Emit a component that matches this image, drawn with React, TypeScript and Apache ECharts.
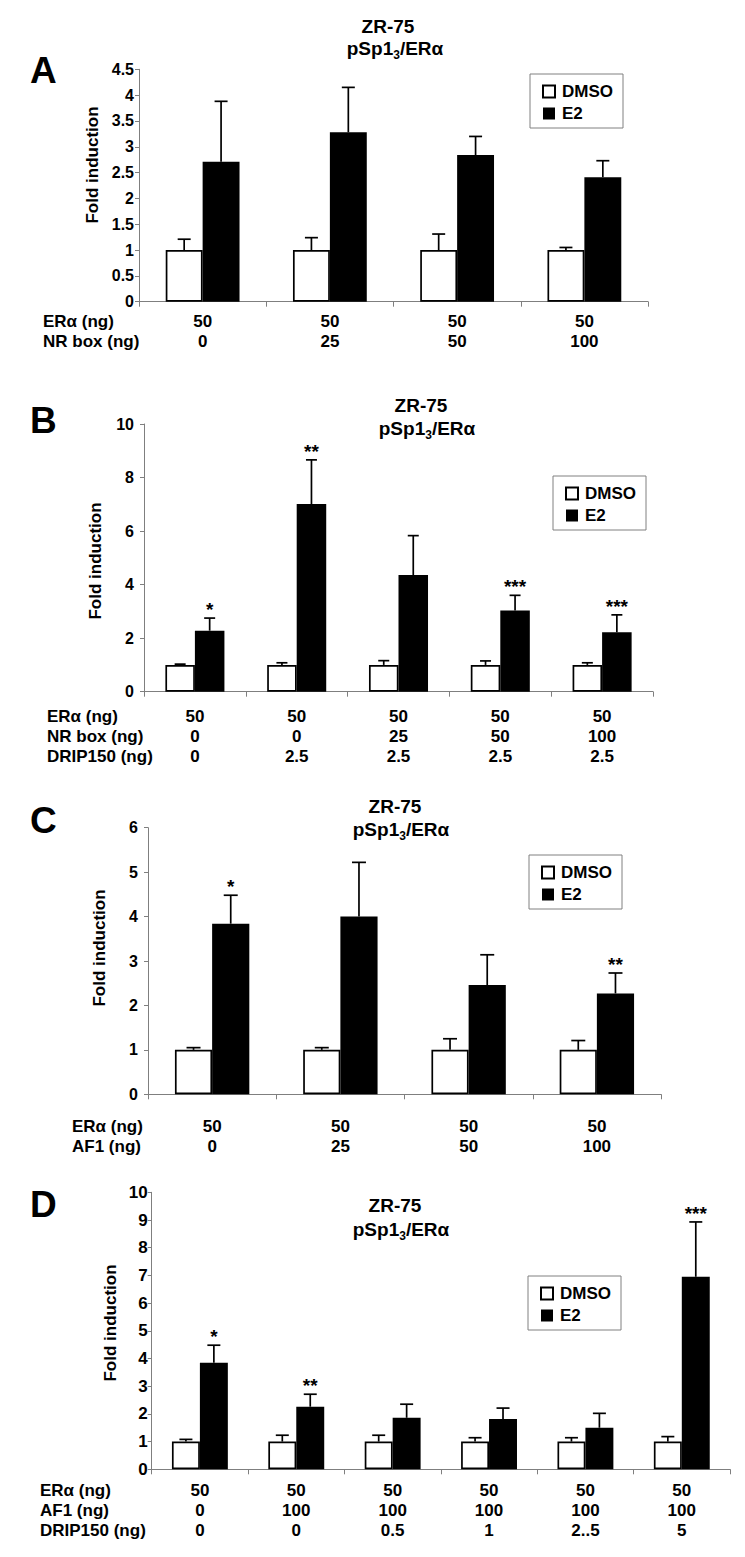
import { useEffect, useRef } from 'react';
import * as echarts from 'echarts';

// ---------- Panel A ----------
const aEra = ['50', '50', '50', '50'];
const aNrBox = ['0', '25', '50', '100'];
const aDmso = [1, 1, 1, 1];
const aDmsoErr = [1.21, 1.24, 1.31, 1.05];
const aE2 = [2.71, 3.28, 2.84, 2.41];
const aE2Err = [3.88, 4.15, 3.2, 2.73];
const aStars = ['', '', '', ''];

// ---------- Panel B ----------
const bEra = ['50', '50', '50', '50', '50'];
const bNrBox = ['0', '0', '25', '50', '100'];
const bDrip = ['0', '2.5', '2.5', '2.5', '2.5'];
const bDmso = [1, 1, 1, 1, 1];
const bDmsoErr = [1.03, 1.08, 1.16, 1.15, 1.08];
const bE2 = [2.28, 7.01, 4.36, 3.03, 2.22];
const bE2Err = [2.75, 8.66, 5.83, 3.6, 2.87];
const bStars = ['*', '**', '', '***', '***'];

// ---------- Panel C ----------
const cEra = ['50', '50', '50', '50'];
const cAf1 = ['0', '25', '50', '100'];
const cDmso = [1, 1, 1, 1];
const cDmsoErr = [1.05, 1.05, 1.25, 1.21];
const cE2 = [3.84, 4.0, 2.46, 2.27];
const cE2Err = [4.48, 5.22, 3.14, 2.73];
const cStars = ['*', '', '', '**'];

// ---------- Panel D ----------
const dEra = ['50', '50', '50', '50', '50', '50'];
const dAf1 = ['0', '100', '100', '100', '100', '100'];
const dDrip = ['0', '0', '0.5', '1', '2..5', '5'];
const dDmso = [1, 1, 1, 1, 1, 1];
const dDmsoErr = [1.08, 1.23, 1.23, 1.14, 1.14, 1.18];
const dE2 = [3.85, 2.26, 1.86, 1.82, 1.5, 6.95];
const dE2Err = [4.48, 2.71, 2.35, 2.21, 2.02, 8.93];
const dStars = ['*', '**', '', '', '', '***'];

const seriesNames = ['DMSO', 'E2'];
const titleLine1 = 'ZR-75';
const titleLine2 = 'pSp1{s|3}/ERα';
const yName = 'Fold induction';

const FONT = '"Liberation Sans", Arial, Helvetica, sans-serif';
const GAP = 0.42;
const AXIS_COLOR = '#7f7f7f';

const panels = [
  {
    letter: 'A', rows: [['ERα (ng)', aEra], ['NR box (ng)', aNrBox]],
    dmso: aDmso, dmsoErr: aDmsoErr, e2: aE2, e2Err: aE2Err, stars: aStars,
    yMax: 4.5, yInterval: 0.5,
    grid: { left: 139, top: 69.3, width: 509, height: 232.4 },
    tickMargin: 5, tickFont: 16, labelMargin: 10, headX: 43, cap: 13,
    letterPos: [30, 70], yNamePos: [92, 165],
    t1: [388, 26], t2: [395, 48], legend: { left: 530, top: 74 },
  },
  {
    letter: 'B', rows: [['ERα (ng)', bEra], ['NR box (ng)', bNrBox], ['DRIP150 (ng)', bDrip]],
    dmso: bDmso, dmsoErr: bDmsoErr, e2: bE2, e2Err: bE2Err, stars: bStars,
    yMax: 10, yInterval: 2,
    grid: { left: 144, top: 424, width: 509, height: 267.7 },
    tickMargin: 10, tickFont: 16, labelMargin: 15, headX: 47, cap: 11,
    letterPos: [30, 420], yNamePos: [95, 561],
    t1: [421, 405], t2: [427, 428], legend: { left: 553, top: 476 },
  },
  {
    letter: 'C', rows: [['ERα (ng)', cEra], ['AF1 (ng)', cAf1]],
    dmso: cDmso, dmsoErr: cDmsoErr, e2: cE2, e2Err: cE2Err, stars: cStars,
    yMax: 6, yInterval: 1,
    grid: { left: 148, top: 827.7, width: 513, height: 266.6 },
    tickMargin: 10, tickFont: 16, labelMargin: 22, headX: 72, cap: 14,
    letterPos: [30, 820], yNamePos: [99, 948],
    t1: [395, 806], t2: [401, 829], legend: { left: 529, top: 855 },
  },
  {
    letter: 'D', rows: [['ERα (ng)', dEra], ['AF1 (ng)', dAf1], ['DRIP150 (ng)', dDrip]],
    dmso: dDmso, dmsoErr: dDmsoErr, e2: dE2, e2Err: dE2Err, stars: dStars,
    yMax: 10, yInterval: 1,
    grid: { left: 151.7, top: 1192.3, width: 578.3, height: 277 },
    tickMargin: 4, tickFont: 17, labelMargin: 11, headX: 40, cap: 13,
    letterPos: [30, 1204], yNamePos: [110, 1323],
    t1: [395, 1205], t2: [401, 1229], legend: { left: 528, top: 1276 },
  },
];

function errSeries(i: number, side: number, means: number[], tops: number[], stars: string[], cap: number) {
  return {
    type: 'custom',
    xAxisIndex: i,
    yAxisIndex: i,
    z: 5,
    silent: true,
    data: means.map((m, k) => [k, m, tops[k]]),
    encode: { x: 0, y: [1, 2] },
    renderItem: (params: any, api: any) => {
      const k = api.value(0);
      const base = api.coord([k, api.value(1)]);
      const hi = api.coord([k, api.value(2)]);
      const catW = api.size([1, 0])[0];
      const x = base[0] + (side * catW * (1 - GAP)) / 4;
      const children: any[] = [
        { type: 'line', shape: { x1: x, y1: base[1], x2: x, y2: hi[1] }, style: { stroke: '#000', lineWidth: 1.7 } },
        { type: 'line', shape: { x1: x - cap / 2, y1: hi[1], x2: x + cap / 2, y2: hi[1] }, style: { stroke: '#000', lineWidth: 1.7 } },
      ];
      const s = stars[params.dataIndex];
      if (s) {
        children.push({
          type: 'text',
          style: {
            text: s, x, y: hi[1] + 1,
            align: 'center', textAlign: 'center', verticalAlign: 'bottom', textVerticalAlign: 'bottom',
            fontSize: 19, fontWeight: 'bold', fontFamily: FONT, fill: '#000',
          },
        });
      }
      return { type: 'group', children };
    },
  };
}

export default function App() {
  const ref = useRef<HTMLDivElement>(null);
  useEffect(() => {
    if (!ref.current) return;
    const chart = echarts.init(ref.current, null, { renderer: 'svg' });

    const graphic: any[] = [];
    panels.forEach((p) => {
      graphic.push({
        type: 'text', x: p.letterPos[0], y: p.letterPos[1],
        style: { text: p.letter, fontSize: 37, fontWeight: 'bold', fontFamily: FONT, fill: '#000', align: 'left', textAlign: 'left', verticalAlign: 'middle', textVerticalAlign: 'middle' },
      });
      graphic.push({
        type: 'text', x: p.t1[0], y: p.t1[1],
        style: { text: titleLine1, fontSize: 19, fontWeight: 'bold', fontFamily: FONT, fill: '#000', align: 'center', textAlign: 'center', verticalAlign: 'middle', textVerticalAlign: 'middle' },
      });
      graphic.push({
        type: 'text', x: p.t2[0], y: p.t2[1],
        style: {
          text: titleLine2, fontSize: 19, fontWeight: 'bold', fontFamily: FONT, fill: '#000', lineHeight: 26,
          align: 'center', textAlign: 'center', verticalAlign: 'middle', textVerticalAlign: 'middle',
          rich: { s: { fontSize: 12, fontWeight: 'bold', fontFamily: FONT, fill: '#000', lineHeight: 12, verticalAlign: 'bottom' } },
        },
      });
      graphic.push({
        type: 'text', x: p.yNamePos[0], y: p.yNamePos[1], rotation: Math.PI / 2,
        style: { text: yName, fontSize: 17, fontWeight: 'bold', fontFamily: FONT, fill: '#000', align: 'center', textAlign: 'center', verticalAlign: 'middle', textVerticalAlign: 'middle' },
      });
      const axisY = p.grid.top + p.grid.height;
      p.rows.forEach((r: any, ri: number) => {
        graphic.push({
          type: 'text', x: p.headX, y: axisY + p.labelMargin + 10 + ri * 20,
          style: { text: r[0], fontSize: 17, fontWeight: 'bold', fontFamily: FONT, fill: '#000', align: 'left', textAlign: 'left', verticalAlign: 'middle', textVerticalAlign: 'middle' },
        });
      });
    });

    const series: any[] = [];
    panels.forEach((p, i) => {
      series.push({
        type: 'bar', name: seriesNames[0], xAxisIndex: i, yAxisIndex: i, data: p.dmso,
        barGap: '0%', barCategoryGap: GAP * 100 + '%',
        itemStyle: { color: '#fff', borderColor: '#000', borderWidth: 1.7 },
        silent: true,
      });
      series.push({
        type: 'bar', name: seriesNames[1], xAxisIndex: i, yAxisIndex: i, data: p.e2,
        barGap: '0%', barCategoryGap: GAP * 100 + '%',
        itemStyle: { color: '#000', borderColor: '#000', borderWidth: 0 },
        silent: true,
      });
      series.push(errSeries(i, -1, p.dmso, p.dmsoErr, p.dmso.map(() => ''), p.cap));
      series.push(errSeries(i, 1, p.e2, p.e2Err, p.stars, p.cap));
    });

    const option: any = {
      animation: false,
      backgroundColor: '#fff',
      textStyle: { fontFamily: FONT, fontWeight: 'bold', color: '#000' },
      grid: panels.map((p) => ({ ...p.grid, containLabel: false })),
      xAxis: panels.map((p, i) => ({
        type: 'category', gridIndex: i,
        data: p.rows[0][1].map((_: string, k: number) => p.rows.map((r: any) => r[1][k]).join('\n')),
        axisLine: { lineStyle: { color: AXIS_COLOR, width: 1 } },
        axisTick: { show: true, length: 5, lineStyle: { color: AXIS_COLOR } },
        axisLabel: { interval: 0, margin: p.labelMargin, fontSize: 17, lineHeight: 20, fontWeight: 'bold', color: '#000', fontFamily: FONT },
        splitLine: { show: false },
      })),
      yAxis: panels.map((p, i) => ({
        type: 'value', gridIndex: i, min: 0, max: p.yMax, interval: p.yInterval,
        axisLine: { show: true, lineStyle: { color: AXIS_COLOR, width: 1 } },
        axisTick: { show: true, length: 4, lineStyle: { color: AXIS_COLOR } },
        splitLine: { show: false },
        axisLabel: { fontSize: p.tickFont, fontWeight: 'bold', color: '#000', margin: p.tickMargin, fontFamily: FONT },
      })),
      legend: panels.map((p) => ({
        left: p.legend.left, top: p.legend.top, orient: 'vertical',
        data: seriesNames, selectedMode: false,
        icon: 'rect', itemWidth: 12, itemHeight: 12, itemGap: 5,
        padding: [9, 10, 6, 12],
        borderColor: '#808080', borderWidth: 1, borderRadius: 0,
        textStyle: { fontSize: 17, fontWeight: 'bold', color: '#000', fontFamily: FONT, lineHeight: 17, padding: [0, 0, 0, 2] },
      })),
      graphic,
      series,
    };
    chart.setOption(option);
    return () => chart.dispose();
  }, []);

  return (
    <div
      ref={ref}
      style={{ position: 'absolute', left: 0, top: 0, width: 745, height: 1557, background: '#fff' }}
    />
  );
}
